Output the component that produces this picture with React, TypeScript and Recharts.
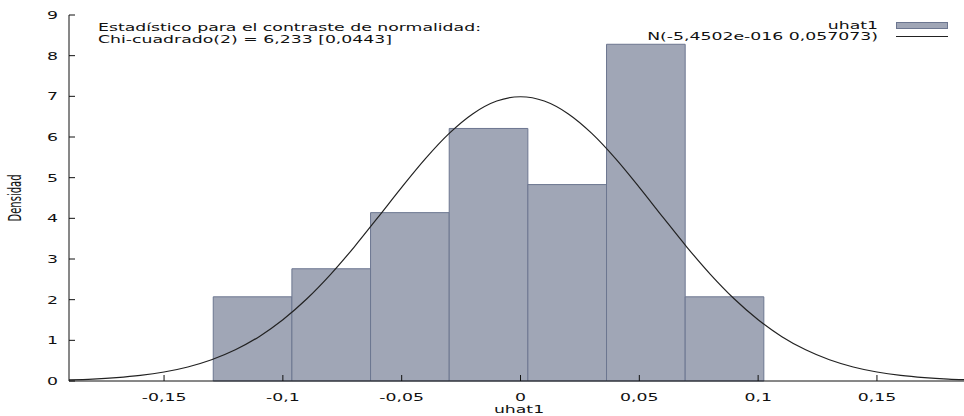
import { ComposedChart, Line, XAxis, YAxis, ReferenceArea } from 'recharts';

// histogram of uhat1 (bin edges + density per bin)
const BIN_EDGES = [-0.1293, -0.0962, -0.0631, -0.03, 0.0031, 0.0362, 0.0693, 0.1024];
const DENSITY = [2.07, 2.76, 4.14, 6.21, 4.83, 8.28, 2.07];

// normal curve
const CURVE_X = [
  -0.19, -0.18, -0.17, -0.16, -0.15, -0.14, -0.13, -0.12, -0.11, -0.1, -0.09, -0.08, -0.07,
  -0.06, -0.05, -0.04, -0.03, -0.02, -0.01, 0, 0.01, 0.02, 0.03, 0.04, 0.05, 0.06, 0.07,
  0.08, 0.09, 0.1, 0.11, 0.12, 0.13, 0.14, 0.15, 0.16, 0.17, 0.18, 0.19,
];
const CURVE_Y = [
  0.027, 0.048, 0.083, 0.137, 0.221, 0.345, 0.522, 0.767, 1.091, 1.506, 2.016, 2.617, 3.294,
  4.023, 4.762, 5.468, 6.088, 6.573, 6.884, 6.99, 6.884, 6.573, 6.088, 5.468, 4.762, 4.023, 3.294,
  2.617, 2.016, 1.506, 1.091, 0.767, 0.522, 0.345, 0.221, 0.137, 0.083, 0.048, 0.027,
];

const X_TICKS = [-0.15, -0.1, -0.05, 0, 0.05, 0.1, 0.15];
const Y_TICKS = [0, 1, 2, 3, 4, 5, 6, 7, 8, 9];

const TEST_LINES = ['Estadístico para el contraste de normalidad:', 'Chi-cuadrado(2) = 6,233 [0,0443]'];
const LEGEND_BARS = 'uhat1';
const LEGEND_CURVE = 'N(-5,4502e-016 0,057073)';

const FONT = "'DejaVu Sans', Verdana, sans-serif";
const STRETCH = 1.73; // the original picture is squashed/stretched horizontally
const BAR_FILL = '#a0a6b6';
const BAR_STROKE = '#6c7690';
const INK = '#111';
const TICK = 6;

const fmt = (v: number) => String(v).replace('.', ',');

function SText({ x, y, anchor = 'start', rotate, children }: any) {
  const t = `translate(${x},${y}) scale(${STRETCH},1)` + (rotate ? ` rotate(${rotate})` : '');
  return (
    <g transform={t}>
      <text textAnchor={anchor} fontSize={10} fontFamily={FONT} fill={INK}>
        {children}
      </text>
    </g>
  );
}

const BottomTick = ({ x, y, payload }: any) => (
  <g>
    <line x1={x} y1={y} x2={x} y2={y - TICK} stroke={INK} />
    <SText x={x} y={y + 20} anchor="middle">{fmt(payload.value)}</SText>
  </g>
);

const TopTick = ({ x, y }: any) => <line x1={x} y1={y} x2={x} y2={y + TICK} stroke={INK} />;

const LeftTick = ({ x, y, payload }: any) => (
  <g>
    <line x1={x} y1={y} x2={x + TICK} y2={y} stroke={INK} />
    <SText x={x - 11} y={y + 4} anchor="end">{fmt(payload.value)}</SText>
  </g>
);

const RightTick = ({ x, y }: any) => <line x1={x} y1={y} x2={x - TICK} y2={y} stroke={INK} />;

const data = CURVE_X.map((x, i) => ({ x, density: CURVE_Y[i] }));

export default function App() {
  return (
    <div style={{ position: 'fixed', left: 0, top: 0, width: 964, height: 416, overflow: 'hidden', background: '#fff' }}>
      <ComposedChart width={980} height={416} data={data} margin={{ top: 15, right: 8, left: 0, bottom: 0 }}>
        <XAxis
          dataKey="x"
          type="number"
          domain={[-0.19, 0.19]}
          allowDataOverflow
          ticks={X_TICKS}
          interval={0}
          height={35}
          tickSize={0}
          tickMargin={0}
          tickLine={false}
          axisLine={{ stroke: INK }}
          tick={<BottomTick />}
        />
        <XAxis
          xAxisId="top"
          orientation="top"
          type="number"
          domain={[-0.19, 0.19]}
          allowDataOverflow
          ticks={X_TICKS}
          interval={0}
          height={0}
          tickSize={0}
          tickMargin={0}
          tickLine={false}
          axisLine={{ stroke: INK }}
          tick={<TopTick />}
        />
        <YAxis
          type="number"
          domain={[0, 9]}
          ticks={Y_TICKS}
          interval={0}
          width={69}
          tickSize={0}
          tickMargin={0}
          tickLine={false}
          axisLine={{ stroke: INK }}
          tick={<LeftTick />}
        />
        <YAxis
          yAxisId="right"
          orientation="right"
          type="number"
          domain={[0, 9]}
          ticks={Y_TICKS}
          interval={0}
          width={0}
          tickSize={0}
          tickMargin={0}
          tickLine={false}
          axisLine={{ stroke: INK }}
          tick={<RightTick />}
        />
        {DENSITY.map((d, i) => (
          <ReferenceArea
            key={i}
            x1={BIN_EDGES[i]}
            x2={BIN_EDGES[i + 1]}
            y1={0}
            y2={d}
            fill={BAR_FILL}
            fillOpacity={1}
            stroke={BAR_STROKE}
            strokeWidth={1}
          />
        ))}
        <Line
          type="monotone"
          dataKey="density"
          stroke="#222"
          strokeWidth={1.2}
          dot={false}
          isAnimationActive={false}
        />
      </ComposedChart>
      <svg width={964} height={416} style={{ position: 'absolute', left: 0, top: 0, pointerEvents: 'none' }}>
        {TEST_LINES.map((s, i) => (
          <SText key={s} x={98} y={31 + i * 12}>{s}</SText>
        ))}
        <SText x={878} y={28.5} anchor="end">{LEGEND_BARS}</SText>
        <rect x={896.5} y={22.5} width={51} height={6} fill={BAR_FILL} stroke={BAR_STROKE} />
        <SText x={878} y={39.5} anchor="end">{LEGEND_CURVE}</SText>
        <line x1={896} y1={36.5} x2={948} y2={36.5} stroke="#222" strokeWidth={1.2} />
        <SText x={519} y={413} anchor="middle">uhat1</SText>
        <SText x={21} y={198} anchor="middle" rotate={-90}>Densidad</SText>
      </svg>
    </div>
  );
}
